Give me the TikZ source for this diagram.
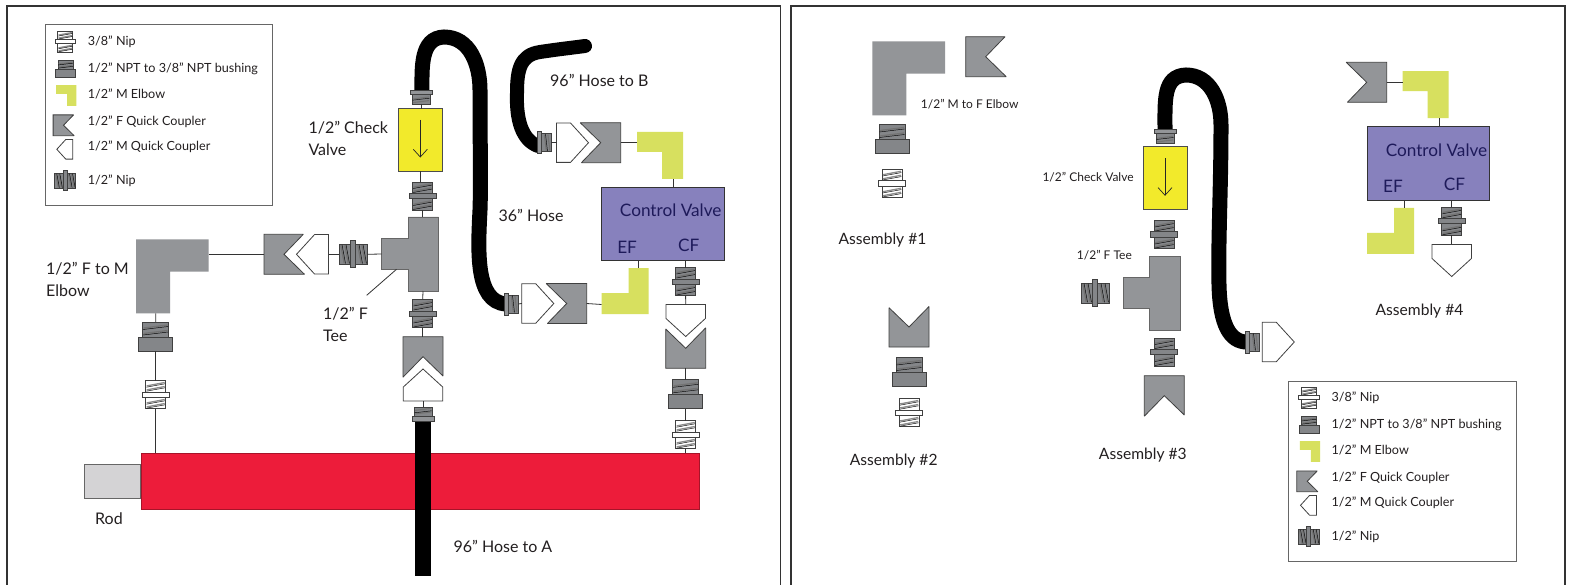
\documentclass[tikz,border=0pt]{standalone}
\usepackage{fontspec}
\setmainfont{Lato}
\definecolor{partgray}{HTML}{939598}
\definecolor{limeel}{HTML}{D7E05F}
\definecolor{valveyel}{HTML}{F2EA2B}
\definecolor{purplecv}{HTML}{8781BD}
\definecolor{redcyl}{HTML}{ED1C3A}
\definecolor{rodgray}{HTML}{D4D3D5}
\definecolor{txtc}{HTML}{231F20}
\definecolor{cvtxt}{HTML}{1E1A5A}
\newcommand\threadset[3]{%
  \foreach \yy in {#1}{%
    \draw[line width=1.3pt,#2] (-9,\yy+1.7) -- (9,\yy-1.7);
    \draw[line width=.45pt,#3] (-9.3,\yy+3) -- (9.3,\yy-.4);
  }}
\newcommand\nipbody[3]{%
  \filldraw[partline,fill=#1] (-10,-14) rectangle (10,14);
  \threadset{-10.5,-6.5,6.5,10.5}{#2}{#3}
  \filldraw[partline,fill=#1] (-13.5,-2.6) rectangle (13.5,2.6);
  \coordinate (-t) at (0,-14);
  \coordinate (-b) at (0,14);}
\tikzset{
  x=1pt,y=-1pt,
  partline/.style={draw=black!75,line width=.8pt,miter limit=2},
  conn/.style={draw=black!80,line width=.8pt},
  frameln/.style={draw=black!80,line width=1.6pt},
  hose/.style={draw=black,line width=15pt},
  lab/.style={inner sep=0pt,anchor=west,text=txtc,align=left,font=\fontsize{16}{22}\selectfont},
  labsm/.style={inner sep=0pt,anchor=west,text=txtc,font=\fontsize{12.6}{15}\selectfont},
  labtiny/.style={inner sep=0pt,anchor=west,text=txtc,font=\fontsize{12}{15}\selectfont},
  labas/.style={inner sep=0pt,anchor=center,text=txtc,font=\fontsize{15.6}{18}\selectfont},
  cvt/.style={inner sep=0pt,text=cvtxt,font=\fontsize{17.2}{20}\selectfont},
  nipw/.pic={\nipbody{white}{black!45}{black}},
  nipd/.pic={\nipbody{partgray!90!black}{black!55}{black}},
  bush/.pic={
    \filldraw[partline,fill=partgray!90!black] (-13,-14.5) rectangle (13,.5);
    \draw[line width=1.3pt,black!55] (-12,-8.5) -- (12,-11.5);
    \draw[line width=.45pt,black] (-12.5,-7) -- (12.5,-10);
    \draw[line width=1.3pt,black!55] (-12,-3) -- (12,-6);
    \draw[line width=.45pt,black] (-12.5,-1.5) -- (12.5,-4.5);
    \filldraw[partline,fill=partgray!90!black] (-17,.5) rectangle (17,14.5);
    \coordinate (-t) at (0,-14.5);
    \coordinate (-b) at (0,14.5);},
  hosefit/.pic={
    \filldraw[partline,fill=partgray!90!black] (-9,-2.5) rectangle (9,7);
    \draw[line width=1.1pt,black!55] (-8,2) -- (8,0);
    \draw[line width=.45pt,black] (-8.5,3.2) -- (8.5,1.2);
    \draw[line width=1.1pt,black!55] (-8,5.6) -- (8,3.6);
    \filldraw[partline,fill=partgray] (-11,-7) rectangle (11,-2.5);
    \coordinate (-b) at (0,7);},
  couplerF/.pic={
    \filldraw[partline,fill=partgray] (-20,-20) -- (19.3,-20) -- (0,0) -- (20.5,20) -- (-20,20) -- cycle;
    \coordinate (-back) at (-20,0);},
  couplerM/.pic={
    \filldraw[partline,fill=white] (-16,-19.7) -- (-2,-19.7) -- (16,0) -- (-2,19.7) -- (-16,19.7) -- cycle;
    \coordinate (-back) at (-16,0);
    \coordinate (-tip) at (16,0);},
  limeelbow/.pic={
    \fill[limeel] (-23,-23.5) -- (23,-23.5) -- (23,23.5) -- (2,23.5) -- (2,-3.5) -- (-23,-3.5) -- cycle;
    \coordinate (-l) at (-23,-13.5);
    \coordinate (-d) at (13.5,23.5);},
  grayelbow/.pic={
    \fill[partgray] (-36.35,-37) -- (36.35,-37) -- (36.35,-4.6) -- (-2.35,-4.6) -- (-2.35,37) -- (-36.35,37) -- cycle;
    \coordinate (-r) at (36.35,-22);
    \coordinate (-d) at (-16.6,37);},
  tee/.pic={
    \filldraw[draw=black!60,line width=.7pt,fill=partgray] (-15,-37) -- (15.7,-37) -- (15.7,37) -- (-15,37) -- (-15,15.3) -- (-41.3,15.3) -- (-41.3,-15.7) -- (-15,-15.7) -- cycle;
    \coordinate (-t) at (0,-37);
    \coordinate (-b) at (0,37);
    \coordinate (-l) at (-41.3,0);
    \coordinate (-lead) at (-26.5,15.3);},
  checkv/.pic={
    \filldraw[draw=black!70,line width=.8pt,fill=valveyel] (-22,-31.4) rectangle (22,31.4);
    \draw[line width=.7pt,black!85] (0,-20) -- (0,17);
    \draw[line width=.7pt,black!85] (-7,9.3) -- (0,17) -- (7,9.3);
    \coordinate (-t) at (0,-31.4);
    \coordinate (-b) at (0,31.4);},
  ctrlvalve/.pic={
    \filldraw[draw=black!80,line width=.9pt,fill=purplecv] (-61.2,-36.7) rectangle (61.2,36.7);
    \coordinate (-n) at (0,-36.7);
    \coordinate (-s) at (0,36.7);
    \node[cvt,anchor=center] (-name) at (7.8,-13.3) {Control Valve};
    \node[cvt,anchor=center] (-ef) at (-35.8,23.3) {EF};
    \node[cvt,anchor=center] (-cf) at (25.8,21.3) {CF};},
  legendbox/.pic={
    \draw[draw=black!60,line width=1pt,fill=white] (45,25) rectangle (272.3,205.3);
    \pic[scale=.75] (-a) at (65.3,41.7) {nipw};
    \pic[scale=.58] (-b) at (65.5,69) {bush};
    \pic[scale=.44] (-c) at (66.3,95.5) {limeelbow};
    \pic[scale=.52] (-d) at (63.5,125.3) {couplerF};
    \pic[scale=.5,rotate=180] (-e) at (64.8,149.3) {couplerM};
    \pic[scale=.75,rotate=90] (-f) at (65,180.7) {nipd};
    \node[labsm] (-ta) at (87.7,41.5) {3/8” Nip};
    \node[labsm] (-tb) at (87.7,68.5) {1/2" NPT to 3/8" NPT bushing};
    \node[labsm] (-tc) at (87.7,94) {1/2” M Elbow};
    \node[labsm] (-td) at (87.7,122) {1/2” F Quick Coupler};
    \node[labsm] (-te) at (87.7,146.5) {1/2” M Quick Coupler};
    \node[labsm] (-tf) at (87.7,180.5) {1/2” Nip};}
}
\begin{document}
\begin{tikzpicture}
\useasboundingbox[fill=white] (0,0) rectangle (1570,585);
% panel frames
\coordinate (fa1) at (7,585);
\coordinate (fa2) at (7,6);
\coordinate (fa3) at (780.5,6);
\coordinate (fa4) at (780.5,585);
\coordinate (fb1) at (791,585);
\coordinate (fb2) at (791,6);
\coordinate (fb3) at (1565,6);
\coordinate (fb4) at (1565,585);
\draw[frameln] (fa1) -- (fa2) -- (fa3) -- (fa4);
\draw[frameln] (fb1) -- (fb2) -- (fb3) -- (fb4);

%%%%%% LEFT PANEL
\pic (legA) at (0,0) {legendbox};
% cylinder
\node[draw=black!60,line width=.8pt,fill=rodgray,minimum width=56.4pt,minimum height=34pt,inner sep=0pt,anchor=east] (rod) at (140.7,481.3) {};
\node[draw=redcyl!70!black,line width=.9pt,fill=redcyl,minimum width=558.6pt,minimum height=56.7pt,inner sep=0pt,anchor=west] (cyl) at (140.7,481.3) {};
% hoses
\coordinate (hA1) at (423,418);
\coordinate (hA2) at (423,576);
\draw[draw=black,line width=16.4pt] (hA1) -- (hA2);
\coordinate (h36a) at (422,92);
\coordinate (h36b) at (506,304);
\draw[hose] (h36a) .. controls (422,68) and (420,38) .. (444,37) .. controls (470,37) and (480,65) .. (480,90) .. controls (480,150) and (481,180) .. (480,210) .. controls (478,250) and (475,302) .. (h36b);
\coordinate (hBa) at (538,146);
\coordinate (hBb) at (585,46);
\draw[hose,line width=14pt,line cap=round] (hBa) .. controls (522,140) and (516,120) .. (517,93) .. controls (517,70) and (520,55) .. (540,52) .. controls (560,49) and (570,48) .. (hBb);

% left branch
\pic (elbowL) at (172.35,276.3) {grayelbow};
\pic (couplerL) at (284,254.3) {couplerF};
\pic[rotate=180] (maleL) at (312.5,254.3) {couplerM};
\pic[rotate=90] (nipL) at (353,254.3) {nipd};
\pic (teeA) at (423,254) {tee};
\pic (fitTop) at (421,97) {hosefit};
\pic (checkA) at (420.3,140) {checkv};
\pic (nipV1) at (422.5,196) {nipd};
\pic (nipV2) at (422.7,313.5) {nipd};
\pic[rotate=-90] (couplerA) at (423,356.7) {couplerF};
\pic[rotate=90] (maleA) at (423,385) {couplerM};
\pic[rotate=180] (fitA) at (423,414) {hosefit};
\pic (bushL) at (155.7,336.5) {bush};
\pic (nipLw) at (155.7,394.7) {nipw};

\draw[conn] (elbowL-r) -- (couplerL-back);
\draw[conn] (maleL-back) -- (nipL-t);
\draw[conn] (nipL-b) -- (teeA-l);
\draw[conn] (elbowL-d) -- (bushL-t);
\draw[conn] (bushL-b) -- (nipLw-t);
\draw[conn] (nipLw-b) -- (nipLw-b |- cyl.north);
\draw[conn] (fitTop-b) -- (fitTop-b |- checkA-t);
\draw[conn] (checkA-b) -- (checkA-b |- nipV1-t);
\draw[conn] (nipV1-b) -- (nipV1-b |- teeA-t);
\draw[conn] (teeA-b) -- (nipV2-t);
\draw[conn] (nipV2-b) -- (nipV2-b |- couplerA-back);
\draw[conn] (maleA-back) -- (fitA-b);

% upper right branch
\pic[rotate=90] (fitB) at (544.3,142.7) {hosefit};
\pic (maleB) at (572.5,142.7) {couplerM};
\pic[rotate=180] (couplerB) at (600.7,142.7) {couplerF};
\pic (elbowB) at (660,155.5) {limeelbow};
\pic (cvA) at (662.9,224) {ctrlvalve};
\draw[conn] (fitB-b) -- (maleB-back);
\draw[conn] (couplerB-back) -- (elbowB-l |- couplerB-back);
\draw[conn] (elbowB-d) -- (elbowB-d |- cvA-n);

% lower right branch
\pic[rotate=90] (fitC) at (511.3,304) {hosefit};
\pic (maleC) at (537.8,303.5) {couplerM};
\pic[rotate=180] (couplerC) at (566.7,303.5) {couplerF};
\pic[rotate=-90] (elbowC) at (625,291) {limeelbow};
\draw[conn] (fitC-b) -- (maleC-back);
\draw[conn] (couplerC-back) -- (elbowC-d);
\draw[conn] (elbowC-l) -- (elbowC-l |- cvA-s);
\pic (nipR) at (685.6,281.5) {nipd};
\pic[rotate=-90] (maleR) at (685.7,320.5) {couplerM};
\pic[rotate=90] (couplerR) at (685.7,348.3) {couplerF};
\pic (bushR) at (685.7,394.3) {bush};
\pic (nipRw) at (685.7,434.7) {nipw};
\draw[conn] (nipR-t) -- (nipR-t |- cvA-s);
\draw[conn] (nipR-b) -- (maleR-back);
\draw[conn] (couplerR-back) -- (bushR-t);
\draw[conn] (bushR-b) -- (nipRw-t);
\draw[conn] (nipRw-b) -- (nipRw-b |- cyl.north);

% leader
\coordinate (leadA) at (366.7,295.3);
\draw[conn] (leadA) -- (teeA-lead);

% labels left
\node[lab] (lCheck) at (308.3,138) {1/2” Check\\Valve};
\node[lab] (lFM) at (46,279.5) {1/2” F to M\\Elbow};
\node[lab] (lTee) at (323,324) {1/2” F\\Tee};
\node[lab] (l36) at (498.3,215) {36” Hose};
\node[lab] (lB) at (550,80.7) {96” Hose to B};
\node[lab] (lA) at (453.3,546) {96” Hose to A};
\node[lab] (lRod) at (95,518.3) {Rod};

%%%%%% RIGHT PANEL
% assembly 1
\pic (elbow1) at (908.65,78.3) {grayelbow};
\pic (coupler1) at (985.7,56.7) {couplerF};
\pic (bush1) at (892,139) {bush};
\pic (nip1) at (892,183.5) {nipw};
\node[labtiny] (t1) at (920.7,104.3) {1/2” M to F Elbow};
\node[labas] (as1) at (882.5,240) {Assembly \#1};
% assembly 2
\pic[rotate=90] (coupler2) at (909,327) {couplerF};
\pic (bush2) at (909,372) {bush};
\pic (nip2) at (909.2,412.7) {nipw};
\node[labas] (as2) at (893.7,461) {Assembly \#2};
% assembly 3
\coordinate (h3a) at (1165,131);
\coordinate (h3b) at (1247,342);
\draw[hose] (h3a) .. controls (1165,100) and (1163,76) .. (1186,75) .. controls (1210,75) and (1221,100) .. (1221,125) .. controls (1221,190) and (1218,240) .. (1219,285) .. controls (1220,325) and (1230,342) .. (h3b);
\pic (fit3) at (1165,136.3) {hosefit};
\pic (check3) at (1165,178.3) {checkv};
\pic (nip3a) at (1164.3,234.5) {nipd};
\pic (tee3) at (1164.5,293) {tee};
\pic[rotate=90] (nip3c) at (1095,293) {nipd};
\pic (nip3b) at (1164.3,352) {nipd};
\pic[rotate=-90] (coupler3) at (1164.3,395.7) {couplerF};
\pic[rotate=90] (fit3b) at (1252.3,342) {hosefit};
\pic (male3) at (1278.3,342) {couplerM};
\node[labtiny] (t3a) at (1042.3,177) {1/2” Check Valve};
\node[labtiny] (t3b) at (1076.7,255) {1/2” F Tee};
\node[labas] (as3) at (1142.8,455) {Assembly \#3};
% assembly 4
\pic[rotate=180] (coupler4) at (1366.7,82.3) {couplerF};
\pic (elbow4) at (1425.6,94.6) {limeelbow};
\pic (cvB) at (1428.7,163.5) {ctrlvalve};
\pic[rotate=-90] (elbow4b) at (1390.6,230.8) {limeelbow};
\pic (nip4) at (1451.7,221.3) {nipd};
\pic[rotate=-90] (male4) at (1451.7,260.5) {couplerM};
\draw[conn] (coupler4-back) -- (elbow4-l |- coupler4-back);
\draw[conn] (elbow4-d) -- (elbow4-d |- cvB-n);
\draw[conn] (elbow4b-l) -- (elbow4b-l |- cvB-s);
\draw[conn] (nip4-t) -- (nip4-t |- cvB-s);
\draw[conn] (nip4-b) -- (male4-back);
\node[labas] (as4) at (1419.5,310.7) {Assembly \#4};
% legend
\pic (legB) at (1243.7,356) {legendbox};
\end{tikzpicture}
\end{document}
